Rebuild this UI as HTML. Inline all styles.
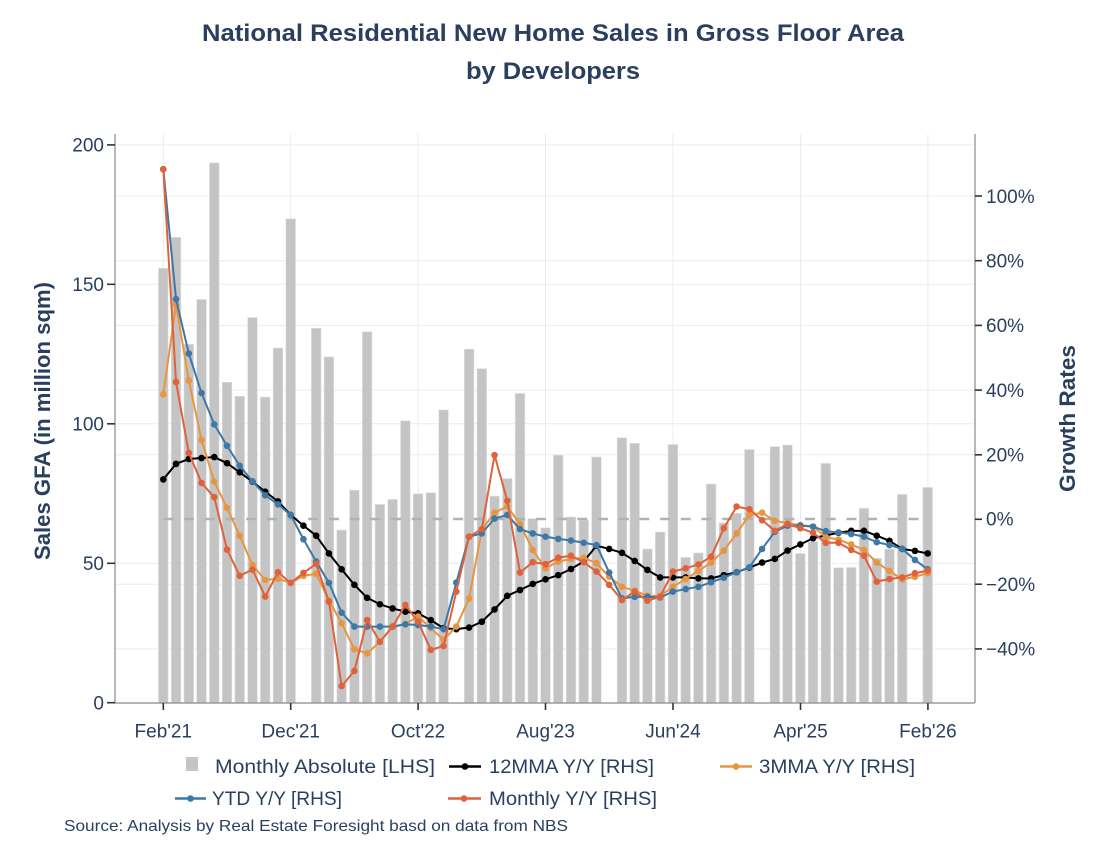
<!DOCTYPE html>
<html><head><meta charset="utf-8">
<style>
html,body{margin:0;padding:0;background:#fff;}
svg{display:block;}
text{font-family:"Liberation Sans",sans-serif;fill:#2a3f5f;}
</style></head>
<body>
<svg id="c" width="1104" height="854" viewBox="0 0 1104 854" xmlns="http://www.w3.org/2000/svg">
<rect width="1104" height="854" fill="#fff"/>
<!-- Title -->
<text x="553" y="41" font-size="24" font-weight="bold" text-anchor="middle" textLength="702" lengthAdjust="spacingAndGlyphs">National Residential New Home Sales in Gross Floor Area</text>
<text x="553" y="79" font-size="24" font-weight="bold" text-anchor="middle" textLength="174" lengthAdjust="spacingAndGlyphs">by Developers</text>

<!-- gridlines -->
<g stroke="#ececec" stroke-width="1">
  <line x1="163.3" y1="134" x2="163.3" y2="703"/>
  <line x1="290.7" y1="134" x2="290.7" y2="703"/>
  <line x1="418.1" y1="134" x2="418.1" y2="703"/>
  <line x1="545.5" y1="134" x2="545.5" y2="703"/>
  <line x1="673" y1="134" x2="673" y2="703"/>
  <line x1="800.5" y1="134" x2="800.5" y2="703"/>
  <line x1="927.9" y1="134" x2="927.9" y2="703"/>
  <line x1="115" y1="563.3" x2="975" y2="563.3"/>
  <line x1="115" y1="423.8" x2="975" y2="423.8"/>
  <line x1="115" y1="284.3" x2="975" y2="284.3"/>
  <line x1="115" y1="144.9" x2="975" y2="144.9"/>
  <line x1="115" y1="196" x2="975" y2="196"/>
  <line x1="115" y1="260.7" x2="975" y2="260.7"/>
  <line x1="115" y1="325.4" x2="975" y2="325.4"/>
  <line x1="115" y1="390.1" x2="975" y2="390.1"/>
  <line x1="115" y1="454.8" x2="975" y2="454.8"/>
  <line x1="115" y1="584.2" x2="975" y2="584.2"/>
  <line x1="115" y1="648.9" x2="975" y2="648.9"/>
</g>

<g id="bars"></g>
<line x1="163.3" y1="519" x2="928" y2="519" stroke="#b2b2b2" stroke-width="2.5" stroke-dasharray="10 10.7"/>
<g id="lines"></g>

<!-- axes -->
<g stroke="#8a8a8a" stroke-width="1.2" fill="none">
  <line x1="115" y1="134" x2="115" y2="703"/>
  <line x1="975" y1="134" x2="975" y2="703"/>
  <line x1="115" y1="703" x2="975" y2="703"/>
</g>
<g stroke="#333" stroke-width="1.6">
  <line x1="107" y1="702.7" x2="115" y2="702.7"/>
  <line x1="107" y1="563.3" x2="115" y2="563.3"/>
  <line x1="107" y1="423.8" x2="115" y2="423.8"/>
  <line x1="107" y1="284.3" x2="115" y2="284.3"/>
  <line x1="107" y1="144.9" x2="115" y2="144.9"/>
  <line x1="975" y1="196" x2="982" y2="196"/>
  <line x1="975" y1="260.7" x2="982" y2="260.7"/>
  <line x1="975" y1="325.4" x2="982" y2="325.4"/>
  <line x1="975" y1="390.1" x2="982" y2="390.1"/>
  <line x1="975" y1="454.8" x2="982" y2="454.8"/>
  <line x1="975" y1="519.3" x2="982" y2="519.3"/>
  <line x1="975" y1="584.2" x2="982" y2="584.2"/>
  <line x1="975" y1="648.9" x2="982" y2="648.9"/>
  <line x1="163.3" y1="703" x2="163.3" y2="710"/>
  <line x1="290.7" y1="703" x2="290.7" y2="710"/>
  <line x1="418.1" y1="703" x2="418.1" y2="710"/>
  <line x1="545.5" y1="703" x2="545.5" y2="710"/>
  <line x1="673" y1="703" x2="673" y2="710"/>
  <line x1="800.5" y1="703" x2="800.5" y2="710"/>
  <line x1="927.9" y1="703" x2="927.9" y2="710"/>
</g>

<!-- left tick labels -->
<g font-size="19" text-anchor="end">
  <text x="104" y="709.5">0</text>
  <text x="104" y="570">50</text>
  <text x="104" y="430.5">100</text>
  <text x="104" y="291">150</text>
  <text x="104" y="151.5">200</text>
</g>
<!-- right tick labels -->
<g font-size="19" text-anchor="start">
  <text x="986" y="202.8">100%</text>
  <text x="986" y="267.5">80%</text>
  <text x="986" y="332.2">60%</text>
  <text x="986" y="396.9">40%</text>
  <text x="986" y="461.6">20%</text>
  <text x="986" y="525.5">0%</text>
  <text x="986" y="591">−20%</text>
  <text x="986" y="655.7">−40%</text>
</g>
<!-- x tick labels -->
<g font-size="19" text-anchor="middle">
  <text x="163.3" y="737.5">Feb'21</text>
  <text x="290.7" y="737.5">Dec'21</text>
  <text x="418.1" y="737.5">Oct'22</text>
  <text x="545.5" y="737.5">Aug'23</text>
  <text x="673" y="737.5">Jun'24</text>
  <text x="800.5" y="737.5">Apr'25</text>
  <text x="927.9" y="737.5">Feb'26</text>
</g>

<!-- axis titles -->
<text transform="translate(50,421) rotate(-90)" font-size="22" font-weight="bold" text-anchor="middle" textLength="278" lengthAdjust="spacingAndGlyphs">Sales GFA (in million sqm)</text>
<text transform="translate(1075,418.5) rotate(-90)" font-size="22" font-weight="bold" text-anchor="middle" textLength="147" lengthAdjust="spacingAndGlyphs">Growth Rates</text>

<!-- legend -->
<rect x="186" y="757" width="12" height="14" fill="#c4c4c4"/>
<text x="215" y="773" font-size="19" textLength="220" lengthAdjust="spacingAndGlyphs">Monthly Absolute [LHS]</text>

<line x1="449" y1="766.5" x2="481" y2="766.5" stroke="#000" stroke-width="2.5"/>
<circle cx="465" cy="766.5" r="3.3" fill="#000"/>
<text x="489" y="773" font-size="19" textLength="165" lengthAdjust="spacingAndGlyphs">12MMA Y/Y [RHS]</text>

<line x1="720" y1="766.5" x2="752" y2="766.5" stroke="#e8953f" stroke-width="2.5"/>
<circle cx="736" cy="766.5" r="3.3" fill="#e8953f"/>
<text x="759" y="773" font-size="19" textLength="156" lengthAdjust="spacingAndGlyphs">3MMA Y/Y [RHS]</text>

<line x1="175" y1="798.5" x2="206" y2="798.5" stroke="#3d78a6" stroke-width="2.5"/>
<circle cx="190.5" cy="798.5" r="3.3" fill="#3d78a6"/>
<text x="212" y="805" font-size="19" textLength="130" lengthAdjust="spacingAndGlyphs">YTD Y/Y [RHS]</text>

<line x1="448" y1="798.5" x2="481" y2="798.5" stroke="#e0623a" stroke-width="2.5"/>
<circle cx="464" cy="798.5" r="3.3" fill="#e0623a"/>
<text x="489" y="805" font-size="19" textLength="168" lengthAdjust="spacingAndGlyphs">Monthly Y/Y [RHS]</text>

<text x="64" y="831" font-size="16" textLength="504" lengthAdjust="spacingAndGlyphs">Source: Analysis by Real Estate Foresight basd on data from NBS</text>
</svg>

<script>
(function(){
var NS="http://www.w3.org/2000/svg";
var bars=[155.8,166.9,128.5,144.6,193.6,114.9,109.9,138.1,109.6,127.2,173.5,null,
134.3,124.0,61.9,76.2,133.0,71.1,72.9,101.1,74.9,75.3,105.0,null,
126.8,119.8,74.1,80.4,110.9,66.0,62.7,88.8,66.6,65.4,88.1,null,
95.0,93.0,55.1,61.2,92.6,52.1,53.7,78.4,64.5,67.9,90.8,null,
91.8,92.4,53.5,57.7,85.8,48.4,48.5,69.7,51.8,55.1,74.7,null,77.2];
var red=[108.3,42.5,20.6,11.3,6.9,-9.3,-17.4,-15.5,-23.8,-16.3,-19.6,-16.5,
-13.7,-25.4,-51.5,-46.8,-31.1,-37.8,-33.1,-26.4,-31.6,-40.3,-39.1,-22.3,
-5.3,-3.0,19.9,5.8,-16.4,-13.2,-13.8,-11.8,-11.2,-13.2,-16.1,-20.2,
-24.9,-22.3,-25.1,-23.9,-16.1,-15.1,-13.9,-11.5,-2.7,4.0,3.2,-0.2,
-3.5,-1.4,-2.7,-4.1,-7.2,-7.2,-9.4,-11.2,-19.2,-18.4,-17.9,-16.6,-15.8];
var orange=[38.7,66.5,43.0,24.6,11.7,3.6,-5.0,-14.1,-18.7,-18.3,-19.6,-17.4,
-16.8,-25.0,-32.1,-40.1,-41.4,-37.8,-33.1,-32.3,-30.0,-33.6,-37.2,-33.1,
-24.4,-3.2,2.1,4.0,-1.4,-9.4,-15.1,-13.0,-12.2,-11.8,-13.5,-17.7,
-20.8,-22.0,-23.6,-23.6,-20.8,-18.4,-15.9,-13.3,-9.6,-4.3,1.4,2.1,
-0.4,-1.2,-1.7,-2.2,-5.4,-6.2,-7.7,-9.4,-13.3,-15.9,-18.5,-17.7,-16.6];
var blue=[108.3,68.1,51.3,39.1,29.4,22.8,16.6,11.8,7.5,4.7,1.4,-6.1,
-13.0,-19.6,-28.8,-33.1,-33.1,-33.1,-33.1,-32.4,-32.6,-33.1,-33.9,-19.5,
-5.3,-4.3,0.3,1.4,-3.0,-4.3,-5.3,-6.0,-6.5,-7.2,-7.9,-16.4,
-24.4,-23.9,-23.9,-24.1,-22.3,-21.5,-20.8,-19.4,-18.0,-16.3,-14.8,-9.1,
-3.8,-1.9,-1.9,-2.2,-3.6,-4.0,-4.5,-5.3,-7.0,-7.9,-9.1,-12.5,-15.4];
var black=[12.4,17.2,18.7,19.0,19.3,17.4,14.6,11.7,8.6,5.6,1.4,-1.9,
-5.0,-10.5,-15.4,-20.2,-24.2,-26.2,-27.5,-28.5,-29.0,-31.1,-33.6,-33.9,
-33.4,-31.6,-27.8,-23.6,-21.8,-19.9,-18.5,-17.2,-15.3,-13.0,-8.1,-9.1,
-10.3,-12.8,-15.6,-17.9,-17.9,-17.9,-18.2,-18.2,-17.2,-16.3,-14.9,-13.3,
-12.2,-9.6,-7.7,-5.8,-4.9,-4.1,-3.5,-3.5,-5.0,-6.6,-9.1,-9.7,-10.5];
function X(i){return 163.3+12.74*i;}
function YL(v){return 702.7-2.7885*v;}
function YR(p){return 519.5-3.235*p;}
var gb=document.getElementById("bars");
for(var i=0;i<bars.length;i++){
  if(bars[i]==null)continue;
  var r=document.createElementNS(NS,"rect");
  var y=YL(bars[i]);
  r.setAttribute("x",(X(i)-4.8).toFixed(2));
  r.setAttribute("y",y.toFixed(2));
  r.setAttribute("width","9.6");
  r.setAttribute("height",(702.7-y).toFixed(2));
  r.setAttribute("fill","#c4c4c4");
  r.setAttribute("stroke","#dde0e6");
  r.setAttribute("stroke-width","0.6");
  gb.appendChild(r);
}
var gl=document.getElementById("lines");
function series(d,col){
  var pts=[];
  for(var i=0;i<d.length;i++)pts.push(X(i).toFixed(2)+","+YR(d[i]).toFixed(2));
  var pl=document.createElementNS(NS,"polyline");
  pl.setAttribute("points",pts.join(" "));
  pl.setAttribute("fill","none");
  pl.setAttribute("stroke",col);
  pl.setAttribute("stroke-width","2");
  pl.setAttribute("stroke-linejoin","round");
  gl.appendChild(pl);
  for(var j=0;j<d.length;j++){
    var c=document.createElementNS(NS,"circle");
    c.setAttribute("cx",X(j).toFixed(2));
    c.setAttribute("cy",YR(d[j]).toFixed(2));
    c.setAttribute("r","3.3");
    c.setAttribute("fill",col);
    gl.appendChild(c);
  }
}
series(black,"#000000");
series(orange,"#e8953f");
series(blue,"#3d78a6");
series(red,"#e0623a");
})();
</script>
</body></html>
